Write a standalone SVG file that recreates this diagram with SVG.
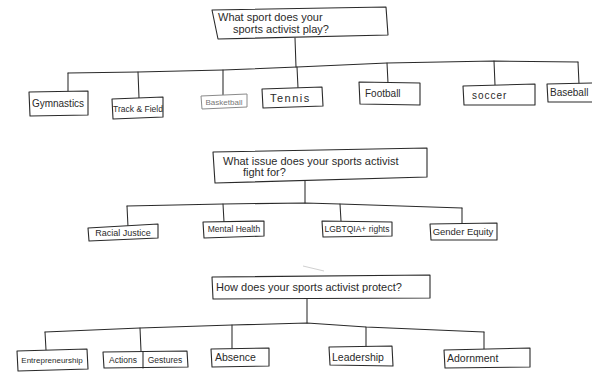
<svg xmlns="http://www.w3.org/2000/svg" width="592" height="373" viewBox="0 0 592 373">
<style>
.box{fill:#fff;stroke:#2a2a2a;stroke-width:1.1;stroke-linejoin:round}
.faint{fill:#fff;stroke:#8a8a8a;stroke-width:1}
.ln{fill:none;stroke:#2a2a2a;stroke-width:1.05;stroke-linecap:round;stroke-linejoin:round}
text{font-family:"Liberation Sans","DejaVu Sans",sans-serif;fill:#2a2a2a}
text.grey{fill:#777}
.q{font-size:11px}
.c{text-anchor:middle}
</style>
<rect width="592" height="373" fill="#fff"/>

<g id="connectors">
  <path class="ln" d="M295,38 L296,67"/>
  <path class="ln" d="M68,73 L138,72 L223,70 L297,67 L387,63 L494,61 L578,62"/>
  <path class="ln" d="M68,73 L68,91 M138,72 L139,98 M223,70 L223,95 M297,67 L298,88 M387,63 L388,83 M494,61 L495,85 M578,62 L579,84"/>
  <path class="ln" d="M305,180 L305,203"/>
  <path class="ln" d="M127,206 L223,204 L305,203 L340,204 L462,208"/>
  <path class="ln" d="M127,206 L128,227 M223,204 L224,222 M340,204 L341,221 M462,208 L462,223"/>
  <path class="ln" d="M307,298 L307,323"/>
  <path class="ln" d="M45,332 L140,328 L232,325 L307,323 L366,327 L484,332"/>
  <path class="ln" d="M45,332 L46,350 M140,328 L141,351 M232,325 L232,349 M366,327 L366,347 M484,332 L484,350"/>
  <path d="M303,266 L324,271" fill="none" stroke="#d0d0d0" stroke-width="1"/>
</g>

<g id="q1">
  <path class="box" d="M212,10 L386,7 L388,35 L218,39 Z"/>
  <text class="q" x="218" y="21">What sport does your</text>
  <text class="q" x="233" y="33">sports activist play?</text>
</g>
<g id="gymnastics">
  <path class="box" d="M29,92 L88,91 L88,115 L30,116 Z"/>
  <text class="c" x="58" y="107" font-size="10">Gymnastics</text>
</g>
<g id="track">
  <path class="box" d="M112,99 L163,97 L163,117 L113,119 Z"/>
  <text class="c" x="138" y="112" font-size="8.5">Track &amp; Field</text>
</g>
<g id="basketball">
  <path class="faint" d="M201,96 L247,94 L247,107 L202,109 Z"/>
  <text class="c grey" x="224" y="105" font-size="8">Basketball</text>
</g>
<g id="tennis">
  <path class="box" d="M262,89 L322,87 L323,106 L263,108 Z"/>
  <text x="270" y="102" font-size="11" letter-spacing="1.5">Tennis</text>
</g>
<g id="football">
  <path class="box" d="M359,82 L420,83 L420,105 L360,104 Z"/>
  <text x="365" y="97" font-size="10">Football</text>
</g>
<g id="soccer">
  <path class="box" d="M463,86 L535,84 L535,105 L464,105 Z"/>
  <text x="472" y="99" font-size="10" letter-spacing="1">soccer</text>
</g>
<g id="baseball">
  <path class="box" d="M547,84 L593,83 L593,102 L548,102 Z"/>
  <text x="550" y="96" font-size="10">Baseball</text>
</g>

<g id="q2">
  <path class="box" d="M213,152 L427,148 L427,177 L215,183 Z"/>
  <text class="q" x="223" y="165">What issue does your sports activist</text>
  <text class="q" x="243" y="176">fight for?</text>
</g>
<g id="racial">
  <path class="box" d="M88,228 L158,224 L158,238 L89,241 Z"/>
  <text class="c" x="123" y="236" font-size="9">Racial Justice</text>
</g>
<g id="mental">
  <path class="box" d="M203,222 L264,221 L264,236 L204,238 Z"/>
  <text class="c" x="234" y="232" font-size="8.5">Mental Health</text>
</g>
<g id="lgbtq">
  <path class="box" d="M322,221 L392,222 L392,236 L323,237 Z"/>
  <text class="c" x="357" y="232" font-size="8.5">LGBTQIA+ rights</text>
</g>
<g id="gender">
  <path class="box" d="M430,224 L497,223 L497,240 L431,240 Z"/>
  <text class="c" x="463" y="235" font-size="9.5">Gender Equity</text>
</g>

<g id="q3">
  <path class="box" d="M212,277 L430,275 L430,298 L213,299 Z"/>
  <text class="q" x="216" y="291">How does your sports activist protect?</text>
</g>
<g id="entrepreneurship">
  <path class="box" d="M17,351 L87,349 L88,369 L18,371 Z"/>
  <text class="c" x="52" y="363" font-size="8">Entrepreneurship</text>
</g>
<g id="actions">
  <path class="box" d="M103,352 L187,351 L188,367 L104,368 Z"/>
  <path class="ln" d="M143,352 L143,368"/>
  <text class="c" x="123" y="363" font-size="8.5">Actions</text>
  <text class="c" x="165" y="363" font-size="8.5">Gestures</text>
</g>
<g id="absence">
  <path class="box" d="M211,349 L269,348 L269,366 L212,367 Z"/>
  <text x="215" y="361" font-size="10.5">Absence</text>
</g>
<g id="leadership">
  <path class="box" d="M329,347 L392,346 L393,366 L330,365 Z"/>
  <text x="332" y="361" font-size="10.5">Leadership</text>
</g>
<g id="adornment">
  <path class="box" d="M444,350 L530,348 L530,367 L445,368 Z"/>
  <text x="447" y="362" font-size="10.5">Adornment</text>
</g>
</svg>
